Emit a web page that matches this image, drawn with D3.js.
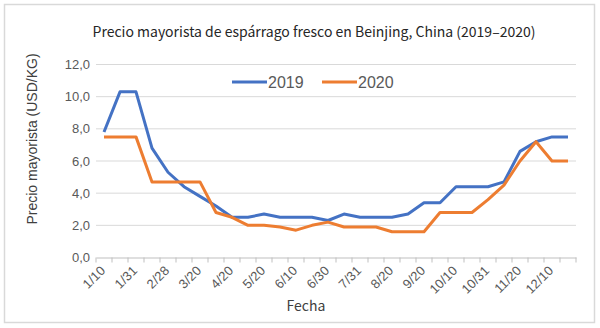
<!DOCTYPE html>
<html><head><meta charset="utf-8">
<script src="https://cdn.jsdelivr.net/npm/d3@7"></script>
<style>body{margin:0;background:#fff;}svg{display:block;}</style>
</head><body>
<script>
const categories = ["1/10","1/20","1/31","2/10","2/28","3/10","3/20","3/31","4/20","4/30","5/20","5/31","6/10","6/20","6/30","7/10","7/31","8/10","8/20","8/31","9/20","9/30","10/10","10/20","10/31","11/10","11/20","11/30","12/10","12/20"];
const tickLabels = ["1/10","1/31","2/28","3/20","4/20","5/20","6/10","6/30","7/31","8/20","9/20","10/10","10/31","11/20","12/10"];
const series2019 = [7.8,10.3,10.3,6.8,5.3,4.4,3.8,3.2,2.5,2.5,2.7,2.5,2.5,2.5,2.3,2.7,2.5,2.5,2.5,2.7,3.4,3.4,4.4,4.4,4.4,4.7,6.6,7.2,7.5,7.5];
const series2020 = [7.5,7.5,7.5,4.7,4.7,4.7,4.7,2.8,2.5,2.0,2.0,1.9,1.7,2.0,2.2,1.9,1.9,1.9,1.6,1.6,1.6,2.8,2.8,2.8,3.6,4.5,6.0,7.2,6.0,6.0];
const yTicks = [0,2,4,6,8,10,12];
const seriesNames = ["2019","2020"];
const colors = ["#4472C4","#ED7D31"];

const W=600,H=328;
const svg=d3.select("body").append("svg").attr("width",W).attr("height",H);
svg.append("rect").attr("x",4.5).attr("y",4.5).attr("width",590).attr("height",318)
  .attr("fill","#fff").attr("stroke","#d9d9d9").attr("stroke-width",1.5);

const x=d3.scaleBand().domain(categories).range([96,576]);
const y=d3.scaleLinear().domain([0,12]).range([257.5,64.5]);

// gridlines
svg.append("g").selectAll("line").data(yTicks.filter(d=>d>0)).join("line")
  .attr("x1",96).attr("x2",576).attr("y1",d=>y(d)).attr("y2",d=>y(d))
  .attr("stroke","#d9d9d9").attr("stroke-width",1);

// y axis labels
const fmt=d=>d.toFixed(1).replace(".",",");
svg.append("g").selectAll("text").data(yTicks).join("text")
  .attr("x",90).attr("y",d=>y(d)).attr("dy","0.35em").attr("text-anchor","end")
  .attr("font-family","Liberation Sans, Arial, sans-serif").attr("font-size",13).attr("fill","#595959")
  .text(fmt);

// x axis
const xAxis=d3.axisBottom(x).tickSize(0).tickFormat(d=>tickLabels.includes(d)&&categories.indexOf(d)%2===0?d:"");
const gx=svg.append("g").attr("transform","translate(0,257.5)").call(xAxis);
gx.select(".domain").attr("stroke","#bfbfbf").attr("stroke-width",1);
gx.selectAll(".tick line").remove();
gx.selectAll(".tick text")
  .attr("font-family","Liberation Sans, Arial, sans-serif").attr("font-size",13).attr("fill","#595959")
  .attr("text-anchor","end").attr("dy",0).attr("y",0)
  .attr("transform","translate(2,14) rotate(-45)");
// tick marks between categories
const bounds=categories.map(c=>x(c)).concat([x(categories[categories.length-1])+x.bandwidth()]);
svg.append("g").selectAll("line").data(bounds).join("line")
  .attr("x1",d=>d).attr("x2",d=>d).attr("y1",257.5).attr("y2",262.5)
  .attr("stroke","#bfbfbf").attr("stroke-width",1);

// lines
const line=d3.line().x((d,i)=>x(categories[i])+x.bandwidth()/2).y(d=>y(d));
[series2019,series2020].forEach((s,k)=>{
  svg.append("path").datum(s).attr("d",line).attr("fill","none")
    .attr("stroke",colors[k]).attr("stroke-width",3).attr("stroke-linejoin","round");
});

// title
svg.append("text").attr("x",314).attr("y",37).attr("text-anchor","middle")
  .attr("font-family","Noto Sans CJK JP, sans-serif").attr("font-size",14).attr("fill","#262626")
  .text("Precio mayorista de espárrago fresco en Beinjing, China (2019–2020)");

// axis titles
svg.append("text").attr("transform","translate(37,139) rotate(-90)").attr("text-anchor","middle")
  .attr("font-family","Liberation Sans, Arial, sans-serif").attr("font-size",14).attr("fill","#404040")
  .text("Precio mayorista (USD/KG)");
svg.append("text").attr("x",306).attr("y",311).attr("text-anchor","middle")
  .attr("font-family","Noto Sans CJK JP, sans-serif").attr("font-size",14).attr("fill","#404040")
  .text("Fecha");

// legend
const leg=svg.append("g");
const legX=[232,322];
seriesNames.forEach((n,k)=>{
  leg.append("line").attr("x1",legX[k]).attr("x2",legX[k]+35).attr("y1",82).attr("y2",82)
    .attr("stroke",colors[k]).attr("stroke-width",3);
  leg.append("text").attr("x",legX[k]+36).attr("y",82).attr("dy","0.35em")
    .attr("font-family","Liberation Sans, Arial, sans-serif").attr("font-size",16).attr("fill","#595959")
    .text(n);
});
</script>
</body></html>
